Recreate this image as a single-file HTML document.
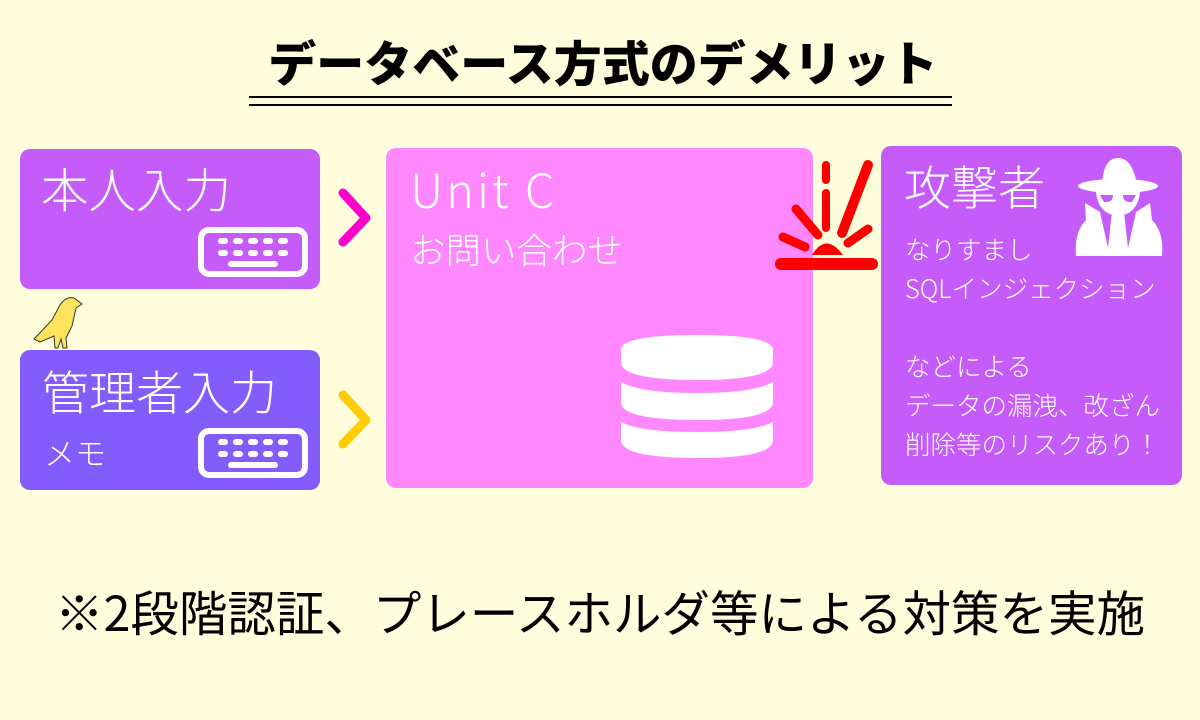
<!DOCTYPE html>
<html><head><meta charset="utf-8"><style>
body{margin:0;width:1200px;height:720px;background:#fefedc;position:relative;overflow:hidden;font-family:"Liberation Sans","Noto Sans CJK JP",sans-serif;}
.a{position:absolute;white-space:nowrap;line-height:1;}
.box{position:absolute;border-radius:10px;}
.w{color:#fff;font-weight:300;font-family:"Noto Sans CJK JP",sans-serif;}
</style></head><body>
<div class="a" style="left:0;width:1206px;text-align:center;top:36px;font-size:48px;font-weight:900;font-family:'Noto Sans CJK JP',sans-serif;color:#000;">データベース方式のデメリット</div>
<div style="position:absolute;left:249px;width:703px;top:96px;height:2px;background:#000"></div>
<div style="position:absolute;left:249px;width:703px;top:104px;height:2px;background:#000"></div>

<div class="box" style="left:20px;top:149px;width:300px;height:140px;background:#c55cfa"></div>
<div class="box" style="left:20px;top:350px;width:300px;height:140px;background:#845cfc"></div>
<div class="box" style="left:386px;top:148px;width:427px;height:340px;background:#ff88ff"></div>
<div class="box" style="left:881px;top:146px;width:301px;height:339px;background:#c55cfa"></div>

<div class="a w" style="left:41px;top:164px;font-size:47.5px;">本人入力</div>
<div class="a w" style="left:42px;top:366px;font-size:47px;">管理者入力</div>
<div class="a w" style="left:44px;top:436px;font-size:31px;">メモ</div>
<div class="a w" style="left:410px;top:164px;font-size:47px;letter-spacing:3px;">Unit C</div>
<div class="a w" style="left:410px;top:231px;font-size:35.5px;">お問い合わせ</div>
<div class="a w" style="left:904px;top:161px;font-size:47px;">攻撃者</div>
<div class="a w" style="left:905px;top:229px;font-size:25.5px;line-height:39px;">なりすまし<br>SQLインジェクション<br><br>などによる<br>データの漏洩、改ざん<br>削除等のリスクあり！</div>

<div class="a" style="left:55px;top:586px;font-size:48.5px;color:#000;font-family:'Noto Sans CJK JP',sans-serif;">※2段階認証、プレースホルダ等による対策を実施</div>

<svg width="1200" height="720" style="position:absolute;left:0;top:0">
<g fill="none" stroke="#fff" stroke-width="6">
<rect x="201" y="230" width="104" height="44" rx="8"/>
<rect x="201" y="431" width="104" height="44" rx="8"/>
</g>
<g fill="#fff">
<g id="k1">
<rect x="218" y="238" width="10" height="6" rx="3"/><rect x="233" y="238" width="10" height="6" rx="3"/><rect x="248" y="238" width="10" height="6" rx="3"/><rect x="263" y="238" width="10" height="6" rx="3"/><rect x="278" y="238" width="10" height="6" rx="3"/>
<rect x="218" y="250" width="10" height="6" rx="3"/><rect x="233" y="250" width="10" height="6" rx="3"/><rect x="248" y="250" width="10" height="6" rx="3"/><rect x="263" y="250" width="10" height="6" rx="3"/><rect x="278" y="250" width="10" height="6" rx="3"/>
<rect x="228" y="261" width="50" height="6" rx="3"/>
</g>
<use href="#k1" y="201"/>
</g>
<polyline points="343,193 366,218 343,242" fill="none" stroke="#f0c" stroke-width="9" stroke-linecap="round" stroke-linejoin="round"/>
<polyline points="343,395 366,420 343,444" fill="none" stroke="#fc0" stroke-width="9" stroke-linecap="round" stroke-linejoin="round"/>
<path d="M34,339 L52,320 L60,305 Q66,296 74,298 L82,304 L76,308 L72,326 L66,338 L67,348 L63,348 L61,339 L58,348 L55,348 L54,336 L40,342 Z" fill="#fde45c" stroke="#333" stroke-width="1"/>
<g fill="#fff">
<path d="M621,350 Q621,335 697,335 Q773,335 773,350 L773,362 Q773,380 697,380 Q621,380 621,362 Z"/>
<path d="M621,382 Q640,393 697,393 Q754,393 773,382 L773,402 Q773,420 697,420 Q621,420 621,402 Z"/>
<path d="M621,422 Q640,432 697,432 Q754,432 773,422 L773,440 Q773,458 697,458 Q621,458 621,440 Z"/>
</g>
<g stroke="#f00" stroke-linecap="round" fill="none">
<line x1="781" y1="264" x2="872" y2="264" stroke-width="12"/>
<line x1="826" y1="165" x2="826" y2="180" stroke-width="8"/>
<line x1="826" y1="193" x2="826" y2="228" stroke-width="8"/>
<line x1="868" y1="165" x2="842" y2="233" stroke-width="10"/>
<line x1="796" y1="209" x2="818" y2="235" stroke-width="9"/>
<line x1="783" y1="237" x2="805" y2="247" stroke-width="9"/>
<line x1="868" y1="229" x2="848" y2="243" stroke-width="9"/>
</g>
<path d="M812,255 Q826,232 843,255 Z" fill="#f00"/>
<g fill="#fff">
<path d="M1102,186 Q1103,158 1118,158 Q1133,158 1137,186 Z"/>
<ellipse cx="1118" cy="186" rx="40" ry="7"/>
<path d="M1096,192 L1140,192 Q1138,214 1118,216 Q1098,214 1096,192 Z"/>
<path d="M1085,203 L1100,212 L1108,248 L1112,212 L1124,212 L1128,248 L1136,212 L1150,203 L1152,220 Q1164,232 1162,256 L1076,256 Q1074,232 1086,220 Z"/>
<path d="M1113,214 L1123,214 L1118,248 Z"/>
</g>
<g fill="#c55cfa"><path d="M1100,195 L1113,195 Q1113,203 1104,202 Z"/><path d="M1136,195 L1123,195 Q1123,203 1132,202 Z"/></g>
</svg>
</body></html>
